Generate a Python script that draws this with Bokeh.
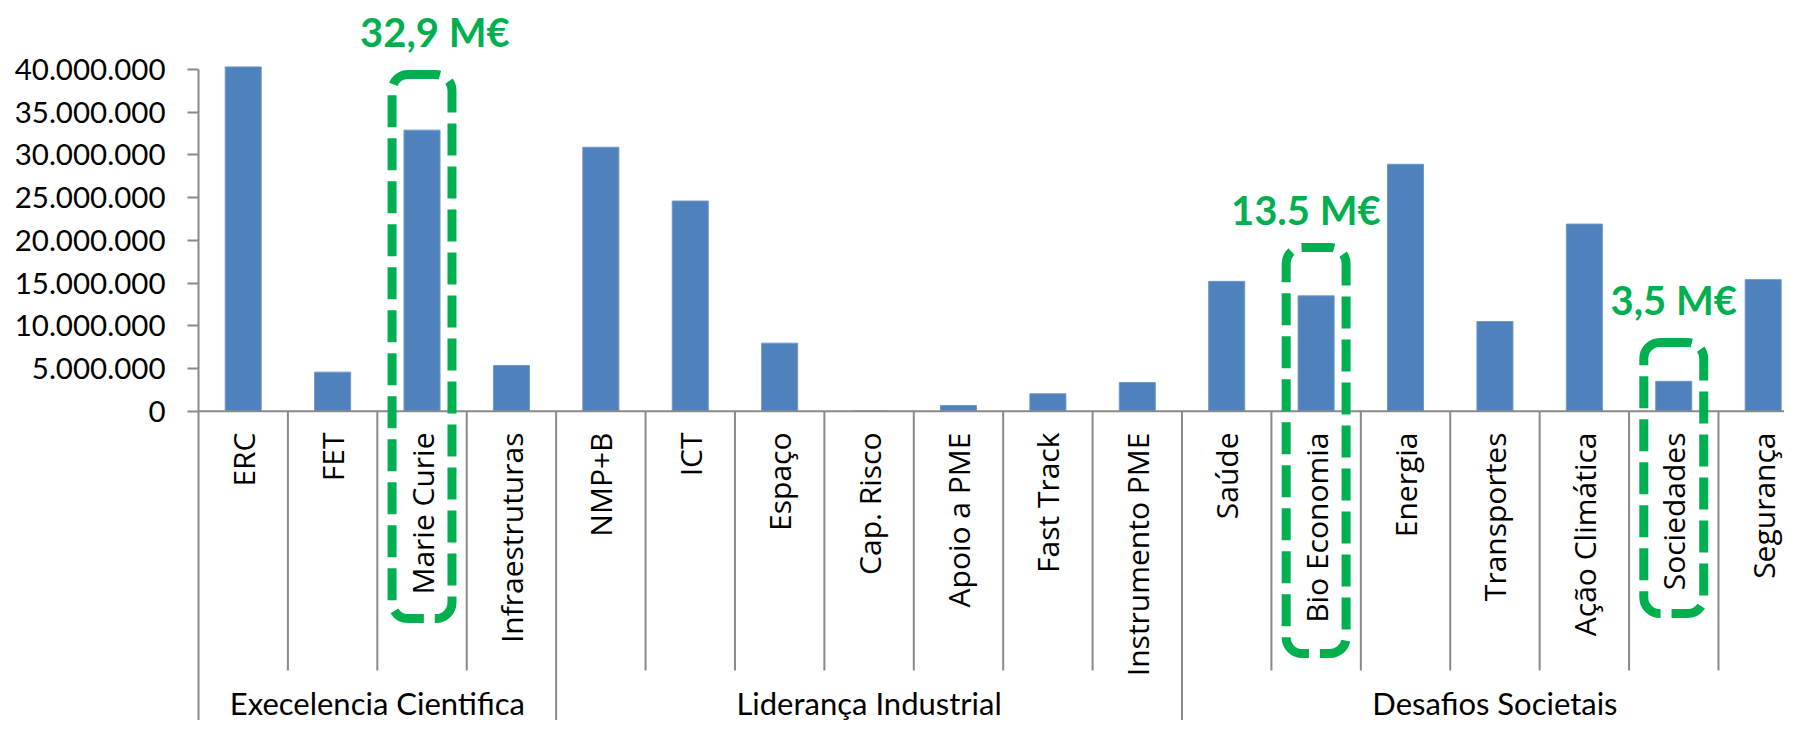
import math
from bokeh.plotting import figure
from bokeh.models import Range1d, FixedTicker, Span, BoxAnnotation
from bokeh.core.properties import value
from bokeh.embed import file_html
from bokeh.resources import INLINE

# ---------------- data ----------------
groups = ["Execelencia Cientifica", "Liderança Industrial", "Desafios Societais"]
group_sizes = [4, 7, 7]
categories = ["ERC", "FET", "Marie Curie", "Infraestruturas",
              "NMP+B", "ICT", "Espaço", "Cap. Risco", "Apoio a PME", "Fast Track", "Instrumento PME",
              "Saúde", "Bio Economia", "Energia", "Transportes", "Ação Climática", "Sociedades", "Segurança"]
funding = [40_300_000, 4_570_000, 32_900_000, 5_350_000,
           30_900_000, 24_600_000, 7_960_000, 0, 670_000, 2_040_000, 3_360_000,
           15_200_000, 13_500_000, 28_900_000, 10_500_000, 21_900_000, 3_500_000, 15_400_000]
y_ticks = [0, 5_000_000, 10_000_000, 15_000_000, 20_000_000, 25_000_000, 30_000_000, 35_000_000, 40_000_000]
y_tick_labels = ["0", "5.000.000", "10.000.000", "15.000.000", "20.000.000",
                 "25.000.000", "30.000.000", "35.000.000", "40.000.000"]
highlight_cats = ["Marie Curie", "Bio Economia", "Sociedades"]
highlight_labels = ["32,9 M€", "13.5 M€", "3,5 M€"]

# ---------------- layout (pixels, figure coordinates) ----------------
W, H = 1784, 720
FRAME_LEFT = 198
CAT_PX = 89.41
ZERO_Y = 410.7          # y of the zero line
PX_PER_UNIT = 8.543 / 1e6


def py(y_px):
    """figure pixel y -> data value"""
    return (ZERO_Y - y_px) / PX_PER_UNIT


x_end = (W - FRAME_LEFT) / CAT_PX
y_top = py(0)
y_bot = py(H)

GREEN = "#00B050"
BLUE = "#4F81BD"
GRAY = "#898989"
FONT = "Lato"
CAT_FONT = "Open Sans"

p = figure(width=W, height=H, output_backend="svg", toolbar_location=None, tools="",
           x_range=Range1d(0, x_end), y_range=Range1d(y_bot, y_top), x_axis_type=None)
p.min_border_left = FRAME_LEFT
p.min_border_right = 0
p.min_border_top = 0
p.min_border_bottom = 0
p.outline_line_color = None
p.xgrid.visible = False
p.ygrid.visible = False
p.background_fill_color = "white"
p.border_fill_color = "white"

# y axis
ya = p.yaxis[0]
ya.ticker = FixedTicker(ticks=y_ticks)
ya.major_label_overrides = {t: l for t, l in zip(y_ticks, y_tick_labels)}
ya.bounds = (y_bot, max(y_ticks))
ya.axis_line_color = GRAY
ya.axis_line_width = 2
ya.major_tick_line_color = GRAY
ya.major_tick_line_width = 2
ya.major_tick_out = 11
ya.major_tick_in = 0
ya.minor_tick_out = 0
ya.minor_tick_in = 0
ya.major_label_standoff = 22
ya.major_label_text_font = FONT
ya.major_label_text_font_size = "29.5px"
ya.major_label_text_color = "black"

# category positions
pos = [i + 0.5 for i in range(len(categories))]

# bars
p.vbar(x=pos, top=funding, bottom=0, width=0.403, fill_color=BLUE, line_color="#6f97c9", line_width=1)

# zero line
p.add_layout(Span(location=0, dimension="width", line_color=GRAY, line_width=2))

# separators
group_bounds = [0]
for s in group_sizes:
    group_bounds.append(group_bounds[-1] + s)
minor = [k for k in range(1, len(categories)) if k not in group_bounds]
major = [k for k in group_bounds if k != 0]
p.segment(x0=minor, y0=[0] * len(minor), x1=minor, y1=[py(670)] * len(minor),
          line_color=GRAY, line_width=2)
p.segment(x0=major, y0=[0] * len(major), x1=major, y1=[y_bot] * len(major),
          line_color=GRAY, line_width=2)

# category labels (rotated)
p.text(x=pos, y=[py(432)] * len(pos), text=categories, angle=math.pi / 2,
       text_align="right", text_baseline="middle", text_font=value(CAT_FONT),
       text_font_size="30px", text_color="black")

# group labels
gcent = [(group_bounds[i] + group_bounds[i + 1]) / 2 for i in range(len(groups))]
p.text(x=gcent, y=[py(702)] * len(gcent), text=groups, text_align="center",
       text_baseline="alphabetic", text_font=value(FONT), text_font_size="31px", text_color="black")

# highlight boxes and labels
box_tb = {"Marie Curie": (74, 618), "Bio Economia": (247, 653), "Sociedades": (342, 613)}
label_xy = {"Marie Curie": (0.144, 31.5), "Bio Economia": (-0.115, 209.7), "Sociedades": (0.0, 299)}
hx, hy = [], []
for c in highlight_cats:
    i = categories.index(c)
    t, b = box_tb[c]
    p.add_layout(BoxAnnotation(left=i + 0.5 - 0.335, right=i + 0.5 + 0.335, top=py(t), bottom=py(b),
                               fill_alpha=0, line_color=GREEN, line_alpha=1.0, line_width=9,
                               line_dash="32 11", border_radius=16))
    dx, ly = label_xy[c]
    hx.append(i + 0.5 + dx)
    hy.append(py(ly))
p.text(x=hx, y=hy, text=highlight_labels, text_align="center", text_baseline="alphabetic",
       text_font=value(FONT), text_font_style="bold", text_font_size="40px", text_color=GREEN)

open("out.html", "w").write(file_html(p, INLINE))
